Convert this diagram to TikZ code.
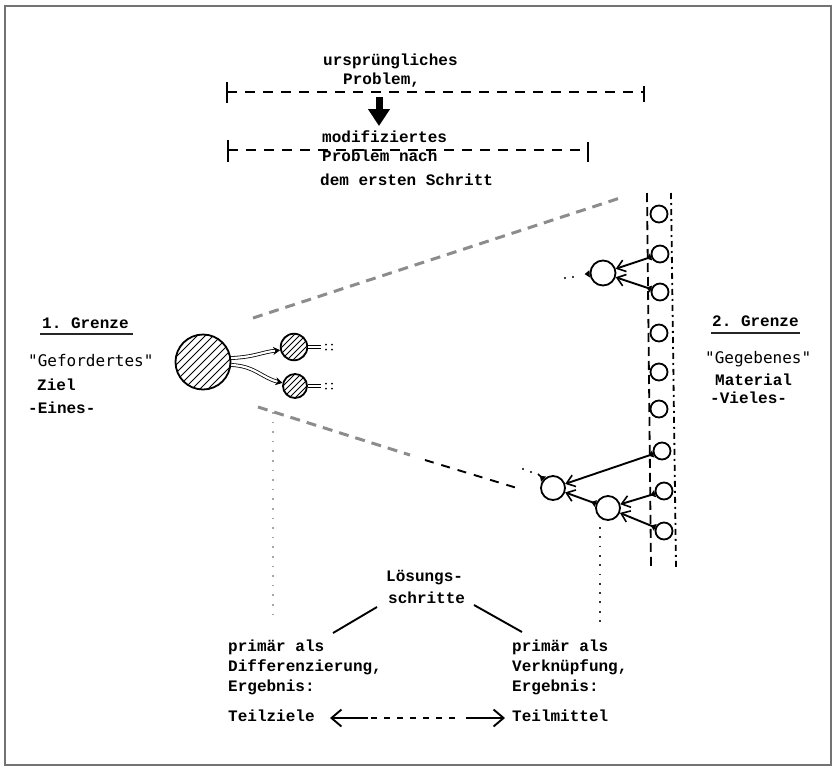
\documentclass[tikz,border=0pt]{standalone}
\usepackage{fontspec}
\setmonofont{Liberation Mono}
\newfontfamily\quotefont{DejaVu Sans Mono}
\usetikzlibrary{arrows.meta,calc}

\begin{document}
\begin{tikzpicture}[x=1pt,y=-1pt,
  txt/.style={font=\ttfamily\bfseries\fontsize{16}{18}\selectfont, inner sep=0pt, anchor=west, text height=10pt, text depth=3pt},
  txtlight/.style={txt},
  quoted/.style={txt, font=\quotefont\fontsize{16}{18}\selectfont},
  circ/.style={circle, draw, line width=1.8pt, fill=white, inner sep=0pt, minimum size=#1},
  hatch/.style={path picture={\foreach \k in {-10,...,10}
      \draw[line width=.8pt] (path picture bounding box.center) ++({\k*#1-60},60) -- ++(120,-120);}},
  link/.style={line width=1.9pt, {Triangle[reversed,length=5pt 0,width=7pt 0]}-{Straight Barb[length=8pt 0,width=12pt 0,line width=1.6pt]}},
  twin/.style={double, double distance=2.2pt, line width=.8pt},
  cone/.style={black!45, line width=3pt, dash pattern=on 10pt off 7pt},
  interval/.style={line width=1.5pt, dash pattern=on 10pt off 8pt},
  tick/.style={line width=1.8pt},
  dotsmall/.style={circle, fill, inner sep=0pt, minimum size=2.2pt},
  stroke/.style={line width=1.9pt},
  bigtip/.style={line width=1.9pt, -{Straight Barb[length=10pt 0,width=17pt 0,line width=1.9pt]}}
]
\useasboundingbox (0,0) rectangle (835,769);
\draw[black!55, line width=1.2pt] (5,6) rectangle (831,765);

% --- problem intervals -------------------------------------------------
\node[txtlight] (orig1) at (323,62) {ursprüngliches};
\node[txtlight] (orig2) at (343,81) {Problem,};
\coordinate (i1l) at (227,92);
\coordinate (i1r) at (644,92);
\draw[interval] (i1l) -- (i1r);
\draw[tick] (227,82) -- (227,103);
\draw[tick] (644,86) -- (644,102);

\coordinate (ar1) at (379,97);
\coordinate (ar2) at (379,126);
\draw[line width=7pt, -{Triangle[length=17pt 0,width=21pt 0]}] (ar1) -- (ar2);

\coordinate (i2l) at (228,150);
\coordinate (i2r) at (588,150);
\draw[interval] (i2l) -- (i2r);
\draw[tick] (228,140) -- (228,162);
\draw[tick] (588,142) -- (588,162);
\node[txtlight] (mod1) at (322,139) {modifiziertes};
\node[txtlight] (mod2) at (322,158) {Problem nach};
\node[txtlight] (mod3) at (320,182) {dem ersten Schritt};

% --- boundary labels ---------------------------------------------------
\node[txt] (g1) at (42,325) {1. Grenze};
\draw[line width=2.5pt, black!85] (40,334) -- (133,334);
\node[quoted] (ziel1) at (28,363) {"Gefordertes"};
\node[txt] (ziel2) at (37,387) {Ziel};
\node[txt] (ziel3) at (28,410) {-Eines-};

\node[txt] (g2) at (712,323) {2. Grenze};
\draw[line width=2.5pt, black!85] (711,333) -- (800,333);
\node[quoted] (mat1) at (705,360) {"Gegebenes"};
\node[txt] (mat2) at (715,382) {Material};
\node[txt] (mat3) at (710,400) {-Vieles-};

% --- cone of the search space -----------------------------------------
\coordinate (cu1) at (253,318);
\coordinate (cu2) at (620,198);
\draw[cone] (cu1) -- (cu2);
\coordinate (cl1) at (258,407);
\coordinate (cl2) at (410,455);
\coordinate (cl3) at (425,460);
\coordinate (cl4) at (517,488);
\draw[cone] (cl1) -- (cl2);
\draw[line width=1.9pt, dash pattern=on 9pt off 8pt] (cl3) -- (cl4);

% --- column of given material -----------------------------------------
\draw[line width=1.8pt, dash pattern=on 9pt off 5pt] (647,193) -- (651,567);
\draw[line width=1.8pt, dash pattern=on 6pt off 4pt on 2pt off 4pt] (671,193) -- (676,567);

\node[circ=17pt] (c1) at (659,214) {};
\node[circ=17pt] (c2) at (660,254) {};
\node[circ=17pt] (c3) at (660,292) {};
\node[circ=17pt] (c4) at (659,333) {};
\node[circ=17pt] (c5) at (659,372) {};
\node[circ=17pt] (c6) at (659,409) {};
\node[circ=17pt] (c7) at (662,451) {};
\node[circ=17pt] (c8) at (664,491) {};
\node[circ=17pt] (c9) at (664,531) {};

% --- linking steps ------------------------------------------------------
\node[circ=25pt] (m1) at (603,273) {};
\node[circ=24pt] (na) at (553,488) {};
\node[circ=24pt] (nb) at (608,508) {};

\draw[link] (c2) -- (m1);
\draw[link] (c3) -- (m1);
\draw[link] (c7) -- (na);
\draw[link] (nb) -- (na);
\draw[link] (c8) -- (nb);
\draw[link] (c9) -- (nb);

\coordinate (m1t) at (586,274);
\draw[line width=1.6pt, {Triangle[reversed,length=5pt 0,width=7pt 0]}-] (m1) -- (m1t);
\node[dotsmall] (m1d1) at (573,277) {};
\node[dotsmall] (m1d2) at (565,278) {};
\coordinate (nat) at (538,474);
\draw[line width=1.6pt, {Triangle[reversed,length=5pt 0,width=7pt 0]}-] (na) -- (nat);
\node[dotsmall] (nad1) at (531,472) {};
\node[dotsmall] (nad2) at (523,469) {};

% --- differentiation steps ---------------------------------------------
\node[circ=55pt, hatch=8] (goal) at (203,362) {};
\node[circ=26.6pt, hatch=6] (s1) at (294,347) {};
\node[circ=24pt, hatch=6] (s2) at (295,386) {};

\draw[twin, -{Stealth[length=7pt 0,width=8pt 0]}] (goal.8) .. controls (255,357) and (262,352) .. (s1.193);
\draw[twin, -{Stealth[length=7pt 0,width=8pt 0]}] (goal.-6) .. controls (255,366) and (262,378) .. (s2.166);

\coordinate (s1e) at (321,347);
\coordinate (s2e) at (321,386);
\draw[twin] (s1) -- (s1e);
\draw[twin] (s2) -- (s2e);
\foreach \p/\q in {s1/347,s2/386}{
  \fill (326,\q-2.5) circle (1pt) (326,\q+2.5) circle (1pt)
        (332,\q-2.5) circle (1pt) (332,\q+2.5) circle (1pt);
}

% --- guide lines down to the steps -------------------------------------
\coordinate (vl1) at (273,412);
\coordinate (vl2) at (273,622);
\draw[black!35, line width=1.8pt, dash pattern=on 1.6pt off 8pt] (vl1) -- (vl2);
\coordinate (vr1) at (600,527);
\coordinate (vr2) at (600,626);
\draw[black!80, line width=1.8pt, dash pattern=on 1.8pt off 7.5pt] (vr1) -- (vr2);

% --- solution steps ------------------------------------------------------
\node[txt] (ls1) at (386,578) {Lösungs-};
\node[txt] (ls2) at (388,600) {schritte};
\coordinate (la1) at (377,607);
\coordinate (la2) at (333,633);
\coordinate (ra1) at (474,605);
\coordinate (ra2) at (522,632);
\draw[stroke] (la1) -- (la2);
\draw[stroke] (ra1) -- (ra2);

\node[txt] (d1) at (228,648) {primär als};
\node[txt] (d2) at (228,668) {Differenzierung,};
\node[txt] (d3) at (228,688) {Ergebnis:};
\node[txt] (tz) at (228,718) {Teilziele};

\node[txt] (v1) at (512,648) {primär als};
\node[txt] (v2) at (512,668) {Verknüpfung,};
\node[txt] (v3) at (512,688) {Ergebnis:};
\node[txt] (tm) at (512,718) {Teilmittel};

\coordinate (tza) at (330,718);
\coordinate (tzb) at (368,718);
\coordinate (tma) at (466,718);
\coordinate (tmb) at (505,718);
\draw[bigtip] (tzb) -- (tza);
\draw[stroke, dash pattern=on 6pt off 7pt] (371,718) -- (462,718);
\draw[bigtip] (tma) -- (tmb);
\end{tikzpicture}
\end{document}
